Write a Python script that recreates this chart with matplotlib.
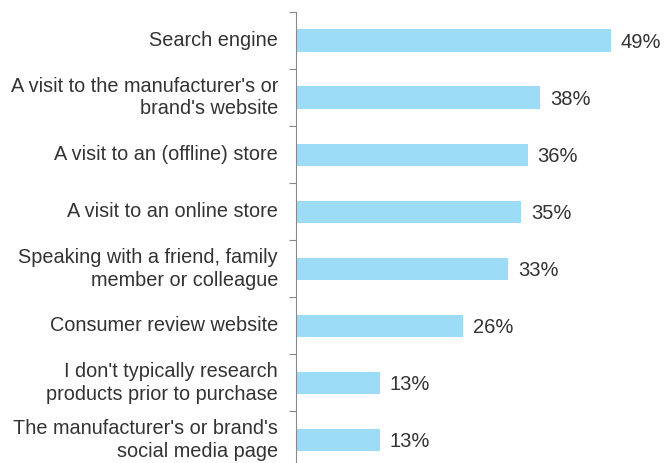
import matplotlib.pyplot as plt

plt.rcParams['font.family'] = ['Liberation Sans', 'DejaVu Sans']

# data
categories = [
    'Search engine',
    "A visit to the manufacturer's or\nbrand's website",
    'A visit to an (offline) store',
    'A visit to an online store',
    'Speaking with a friend, family\nmember or colleague',
    'Consumer review website',
    "I don't typically research\nproducts prior to purchase",
    "The manufacturer's or brand's\nsocial media page",
]
shares = [49, 38, 36, 35, 33, 26, 13, 13]

bar_color = '#9ddcf7'
text_color = '#333333'

fig = plt.figure(figsize=(6.65, 4.63), dpi=100)
ax = fig.add_axes([0.4451, -0.0119, 0.532, 0.986])

y = list(range(len(categories)))
ax.barh(y, shares, height=0.39, color=bar_color)
for yi, v in zip(y, shares):
    ax.text(v + 1.5, yi + 0.03, f'{v}%', va='center', ha='left',
            fontsize=14.5, color=text_color)

ax.set_xlim(0, 55)
ax.set_ylim(len(categories) - 0.5, -0.5)
ax.set_yticks(y)
ax.set_yticklabels(categories, fontsize=14.3, color=text_color, linespacing=1.25,
                   va='center')
ax.set_yticks([i - 0.5 for i in range(len(categories) + 1)], minor=True)
ax.tick_params(axis='y', which='major', length=0, pad=13)
ax.tick_params(axis='y', which='minor', length=5, color='#888888', width=0.8)
ax.set_xticks([])

for side in ['top', 'right', 'bottom']:
    ax.spines[side].set_visible(False)
ax.spines['left'].set_color('#888888')
ax.spines['left'].set_linewidth(0.8)

fig.savefig('out.png', dpi=100)
